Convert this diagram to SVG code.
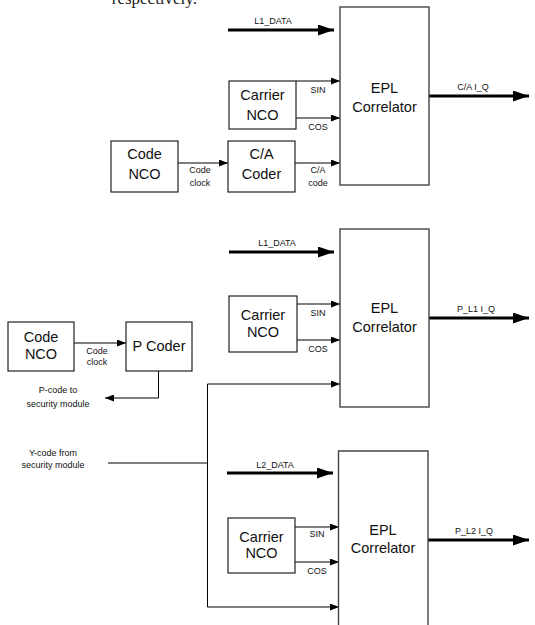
<svg xmlns="http://www.w3.org/2000/svg" width="535" height="625" viewBox="0 0 535 625">
<defs>
<marker id="big" markerUnits="userSpaceOnUse" markerWidth="16" markerHeight="11" refX="16" refY="5.5" orient="auto"><path d="M0,0 L16,5.5 L0,11 z" fill="#000"/></marker>
<marker id="sm" markerUnits="userSpaceOnUse" markerWidth="9" markerHeight="7" refX="9" refY="3.5" orient="auto"><path d="M0,0 L9,3.5 L0,7 z" fill="#000"/></marker>
</defs>
<style>
.box{fill:#fff;stroke:#222;stroke-width:1.2}
.cor{fill:#fff;stroke:#444;stroke-width:1.4}
.t{font-family:"Liberation Sans",Arial,sans-serif;font-size:14.5px;fill:#111;text-anchor:middle}
.s{font-family:"Liberation Sans",Arial,sans-serif;font-size:9px;fill:#111;text-anchor:middle}
.thick{stroke:#000;stroke-width:3;fill:none}
.thin{stroke:#000;stroke-width:1;fill:none}
</style>
<text x="197" y="4" text-anchor="end" style="font-family:'Liberation Serif','Times New Roman',serif;font-size:17px;fill:#222">respectively.</text>

<g id="connectors">
<!-- top section -->
<line class="thick" x1="228" y1="30" x2="334" y2="30" marker-end="url(#big)"/>
<line class="thin" x1="296" y1="81" x2="340" y2="81" marker-end="url(#sm)"/>
<line class="thin" x1="296" y1="118" x2="340" y2="118" marker-end="url(#sm)"/>
<line class="thin" x1="178" y1="163" x2="228" y2="163" marker-end="url(#sm)"/>
<line class="thin" x1="295" y1="163" x2="340" y2="163" marker-end="url(#sm)"/>
<line class="thick" x1="429" y1="96" x2="529" y2="96" marker-end="url(#big)"/>
<!-- middle section -->
<line class="thick" x1="229" y1="252" x2="334" y2="252" marker-end="url(#big)"/>
<line class="thin" x1="297" y1="304" x2="340" y2="304" marker-end="url(#sm)"/>
<line class="thin" x1="297" y1="340" x2="340" y2="340" marker-end="url(#sm)"/>
<polyline class="thin" points="207.5,607 207.5,384 340,384" marker-end="url(#sm)"/>
<line class="thick" x1="429" y1="318" x2="529" y2="318" marker-end="url(#big)"/>
<line class="thin" x1="74" y1="343" x2="126" y2="343" marker-end="url(#sm)"/>
<polyline class="thin" points="158.5,371 158.5,398 105,398" marker-end="url(#sm)"/>
<line class="thin" x1="108" y1="463" x2="207.5" y2="463"/>
<!-- bottom section -->
<line class="thick" x1="227" y1="473" x2="333" y2="473" marker-end="url(#big)"/>
<line class="thin" x1="295" y1="527" x2="339" y2="527" marker-end="url(#sm)"/>
<line class="thin" x1="295" y1="562" x2="339" y2="562" marker-end="url(#sm)"/>
<line class="thin" x1="207.5" y1="607" x2="339" y2="607" marker-end="url(#sm)"/>
<line class="thick" x1="428" y1="540" x2="529" y2="540" marker-end="url(#big)"/>
</g>

<g id="labels">
<text class="s" x="273" y="24">L1_DATA</text>
<text class="s" x="318" y="93">SIN</text>
<text class="s" x="318" y="130">COS</text>
<text class="s" x="200" y="173">Code</text>
<text class="s" x="200" y="186">clock</text>
<text class="s" x="318" y="173">C/A</text>
<text class="s" x="318" y="186">code</text>
<text class="s" x="473" y="90">C/A I_Q</text>

<text class="s" x="277" y="246">L1_DATA</text>
<text class="s" x="318" y="316">SIN</text>
<text class="s" x="318" y="352">COS</text>
<text class="s" x="476" y="312">P_L1 I_Q</text>
<text class="s" x="97" y="354">Code</text>
<text class="s" x="97" y="365">clock</text>
<text class="s" x="58" y="393">P-code to</text>
<text class="s" x="58" y="407">security module</text>
<text class="s" x="53" y="456">Y-code from</text>
<text class="s" x="53" y="468">security module</text>

<text class="s" x="275" y="468">L2_DATA</text>
<text class="s" x="317" y="537">SIN</text>
<text class="s" x="317" y="574">COS</text>
<text class="s" x="474" y="534">P_L2 I_Q</text>
</g>

<g id="epl1"><rect class="cor" x="340" y="7" width="89" height="178"/><text class="t" x="384.5" y="93">EPL</text><text class="t" x="384.5" y="111.5">Correlator</text></g>
<g id="carrier1"><rect class="box" x="229" y="81" width="67" height="48"/><text class="t" x="262.5" y="100">Carrier</text><text class="t" x="262.5" y="120">NCO</text></g>
<g id="codenco1"><rect class="box" x="111" y="141" width="67" height="51"/><text class="t" x="144.5" y="159">Code</text><text class="t" x="144.5" y="179">NCO</text></g>
<g id="cacoder"><rect class="box" x="228" y="141" width="67" height="51"/><text class="t" x="261.5" y="159">C/A</text><text class="t" x="261.5" y="179">Coder</text></g>

<g id="epl2"><rect class="cor" x="340" y="229" width="89" height="178"/><text class="t" x="384.5" y="313">EPL</text><text class="t" x="384.5" y="332">Correlator</text></g>
<g id="carrier2"><rect class="box" x="229" y="296" width="68" height="56"/><text class="t" x="263" y="320">Carrier</text><text class="t" x="263" y="337">NCO</text></g>
<g id="codenco2"><rect class="box" x="8" y="322" width="66" height="49"/><text class="t" x="41" y="342">Code</text><text class="t" x="41" y="359">NCO</text></g>
<g id="pcoder"><rect class="box" x="126" y="322" width="66" height="49"/><text class="t" x="159" y="351">P Coder</text></g>

<g id="epl3"><path class="cor" d="M338.5,630 V451 H428 V630"/><text class="t" x="383" y="535">EPL</text><text class="t" x="383" y="553">Correlator</text></g>
<g id="carrier3"><rect class="box" x="228" y="518" width="67" height="55"/><text class="t" x="261.5" y="542">Carrier</text><text class="t" x="261.5" y="558">NCO</text></g>
</svg>
